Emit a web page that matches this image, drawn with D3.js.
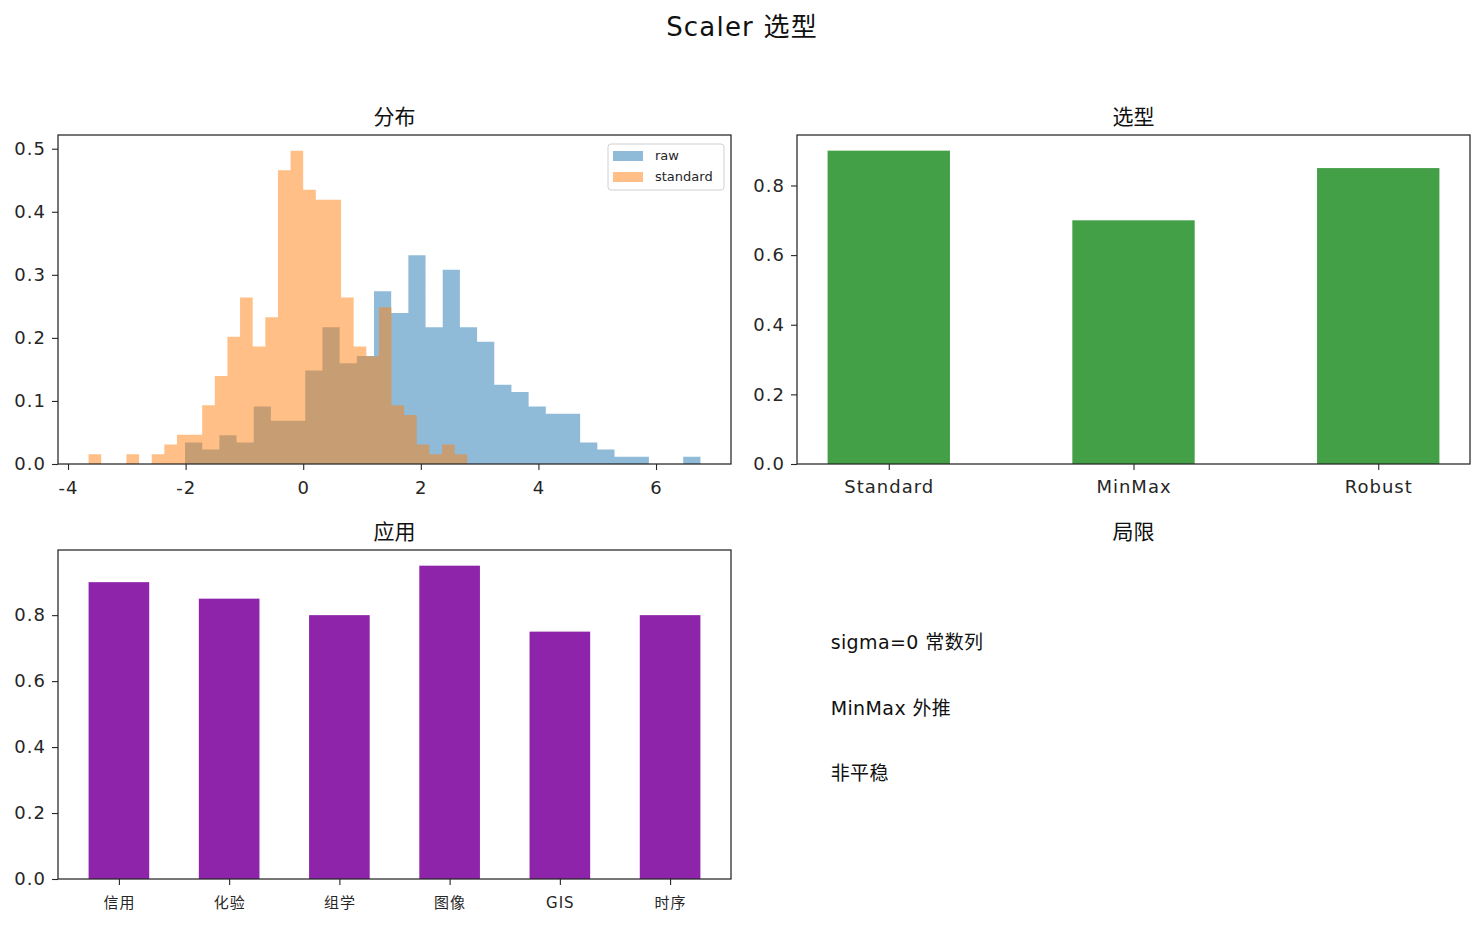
<!DOCTYPE html>
<html>
<head>
<meta charset="utf-8">
<script src="https://cdn.jsdelivr.net/npm/d3@7"></script>
<style>
  body { margin: 0; background: #fff; }
  svg { font-family: "DejaVu Sans", "Noto Sans CJK SC", sans-serif; }
  .tick text { fill: #262626; letter-spacing: 1px; }
  .tick line { stroke: #262626; }
</style>
</head>
<body>
<script>
// ---- data ----
var rawRange = [-2.01, 6.755]
var rawCounts = [3, 2, 4, 3, 8, 6, 6, 13, 19, 14, 15, 24, 21, 29, 19, 27, 19, 17, 11, 10, 8, 7, 7, 3, 2, 1, 1, 0, 0, 1]
var stdRange = [-3.65, 2.79]
var stdCounts = [1, 0, 0, 1, 0, 1, 2, 3, 3, 6, 9, 13, 17, 12, 15, 30, 32, 28, 27, 27, 17, 12, 11, 16, 6, 5, 2, 1, 2, 1]
var histTicks = [-4, -2, 0, 2, 4, 6]

var scalers = ["Standard", "MinMax", "Robust"]
var scalerScores = [0.9, 0.7, 0.85]

var fields = ["信用", "化验", "组学", "图像", "GIS", "时序"]
var fieldScores = [0.9, 0.85, 0.8, 0.95, 0.75, 0.8]

var limits = ["sigma=0 常数列", "MinMax 外推", "非平稳"]

// ==============================================================================

var width = 1484, height = 925
var FONT = '"DejaVu Sans", "Noto Sans CJK SC", sans-serif'

var svg = d3.select("body").append("svg")
    .attr("width", width)
    .attr("height", height)

svg.append("text")
    .attr("x", 742).attr("y", 36)
    .attr("text-anchor", "middle")
    .style("font-size", "26px")
    .style("letter-spacing", "1.2px")
    .attr("fill", "#111")
    .text("Scaler 选型")

// panel boxes
var P = {
  hist:  {x0: 58,  x1: 731,  y0: 135, y1: 464},
  pick:  {x0: 797, x1: 1470, y0: 135, y1: 464},
  use:   {x0: 58,  x1: 731,  y0: 550, y1: 879},
  limit: {x0: 797, x1: 1470, y0: 550, y1: 879}
}

function title(p, t) {
  svg.append("text")
      .attr("x", (p.x0 + p.x1) / 2).attr("y", p.y0 - 11)
      .attr("text-anchor", "middle")
      .style("font-size", "21px")
      .attr("fill", "#111")
      .text(t)
}

function frame(p) {
  svg.append("rect")
      .attr("x", p.x0).attr("y", p.y0)
      .attr("width", p.x1 - p.x0).attr("height", p.y1 - p.y0)
      .attr("fill", "none")
      .attr("stroke", "#262626")
      .attr("stroke-width", 1.25)
}

function styleAxis(g, size) {
  g.attr("font-family", FONT)
  g.select(".domain").remove()
  g.selectAll(".tick line").attr("stroke-width", 1.1)
  g.selectAll(".tick text").style("font-size", size || "18px")
}

var hyphen = f => (d => f(d).replace("−", "-"))

// ---- histogram ----
function bins(range, counts) {
  var n = counts.length,
      w = (range[1] - range[0]) / n,
      total = d3.sum(counts)
  return counts.map((c, i) => ({
    x0: range[0] + i * w,
    x1: range[0] + (i + 1) * w,
    d: c / (total * w)
  }))
}

var rawBins = bins(rawRange, rawCounts),
    stdBins = bins(stdRange, stdCounts)

var lo = Math.min(rawRange[0], stdRange[0]), hi = Math.max(rawRange[1], stdRange[1])
var pad = (hi - lo) * 0.05
var hx = d3.scaleLinear().domain([lo - pad, hi + pad]).range([P.hist.x0, P.hist.x1])
var hmax = d3.max(rawBins.concat(stdBins), b => b.d) * 1.05
var hy = d3.scaleLinear().domain([0, hmax]).range([P.hist.y1, P.hist.y0])

// one step path per series so touching bins leave no seams
var step = d3.area()
    .curve(d3.curveStepAfter)
    .x(p => hx(p.x))
    .y0(hy(0))
    .y1(p => hy(p.d))

function stepPoints(bs) {
  var pts = bs.map(b => ({x: b.x0, d: b.d}))
  pts.push({x: bs[bs.length - 1].x1, d: bs[bs.length - 1].d})
  return pts
}

svg.append("g").selectAll("path")
    .data([[rawBins, "#1f77b4"], [stdBins, "#ff7f0e"]])
  .enter().append("path")
    .attr("d", pair => step(stepPoints(pair[0])))
    .attr("fill", pair => pair[1])
    .attr("fill-opacity", 0.5)

svg.append("g")
    .attr("transform", "translate(0," + P.hist.y1 + ")")
    .call(d3.axisBottom(hx).tickValues(histTicks).tickSize(6).tickPadding(11).tickFormat(hyphen(d3.format("d"))))
    .call(g => styleAxis(g))
svg.append("g")
    .attr("transform", "translate(" + P.hist.x0 + ",0)")
    .call(d3.axisLeft(hy).tickValues([0, 0.1, 0.2, 0.3, 0.4, 0.5]).tickSize(6).tickPadding(6).tickFormat(d3.format(".1f")))
    .call(g => styleAxis(g))
frame(P.hist)
title(P.hist, "分布")

// legend
var leg = svg.append("g").attr("transform", "translate(608,144)")
leg.append("rect")
    .attr("width", 116).attr("height", 46).attr("rx", 3)
    .attr("fill", "#fff").attr("fill-opacity", 0.8)
    .attr("stroke", "#d0d0d0")
;[["raw", "#1f77b4"], ["standard", "#ff7f0e"]].forEach((e, i) => {
  leg.append("rect")
      .attr("x", 5).attr("y", 7 + i * 21).attr("width", 30).attr("height", 10)
      .attr("fill", e[1]).attr("fill-opacity", 0.5)
  leg.append("text")
      .attr("x", 47).attr("y", 16 + i * 21)
      .style("font-size", "13px")
      .attr("fill", "#262626")
      .text(e[0])
})

// ---- bar panels ----
function bars(p, cats, vals, w, color, xFont, xPad) {
  var n = cats.length
  var x = d3.scaleLinear()
      .domain([-w / 2 - (n - 1 + w) * 0.05, n - 1 + w / 2 + (n - 1 + w) * 0.05])
      .range([p.x0, p.x1])
  var y = d3.scaleLinear().domain([0, d3.max(vals) * 1.05]).range([p.y1, p.y0])

  svg.append("g").selectAll("rect")
      .data(vals)
    .enter().append("rect")
      .attr("x", (d, i) => x(i - w / 2))
      .attr("width", x(w) - x(0))
      .attr("y", d => y(d))
      .attr("height", d => y(0) - y(d))
      .attr("fill", color)

  svg.append("g")
      .attr("transform", "translate(0," + p.y1 + ")")
      .call(d3.axisBottom(x).tickValues(d3.range(n)).tickSize(6).tickPadding(xPad).tickFormat(i => cats[i]))
      .call(g => styleAxis(g, xFont))
  svg.append("g")
      .attr("transform", "translate(" + p.x0 + ",0)")
      .call(d3.axisLeft(y).tickValues([0, 0.2, 0.4, 0.6, 0.8]).tickSize(6).tickPadding(6).tickFormat(d3.format(".1f")))
      .call(g => styleAxis(g))
  frame(p)
}

bars(P.pick, scalers, scalerScores, 0.5, "#43a047", "18px", 10)
title(P.pick, "选型")

bars(P.use, fields, fieldScores, 0.55, "#8e24aa", "15px", 12)
title(P.use, "应用")

// ---- text panel ----
title(P.limit, "局限")
var ty = d3.scaleLinear().domain([0, 1]).range([P.limit.y1, P.limit.y0])
svg.append("g").selectAll("text")
    .data(limits)
  .enter().append("text")
    .attr("x", P.limit.x0 + 0.05 * (P.limit.x1 - P.limit.x0))
    .attr("y", (d, i) => ty(0.7 - i * 0.2))
    .style("font-size", "19px")
    .style("letter-spacing", "0.4px")
    .attr("fill", "#111")
    .text(d => d)
</script>
</body>
</html>
